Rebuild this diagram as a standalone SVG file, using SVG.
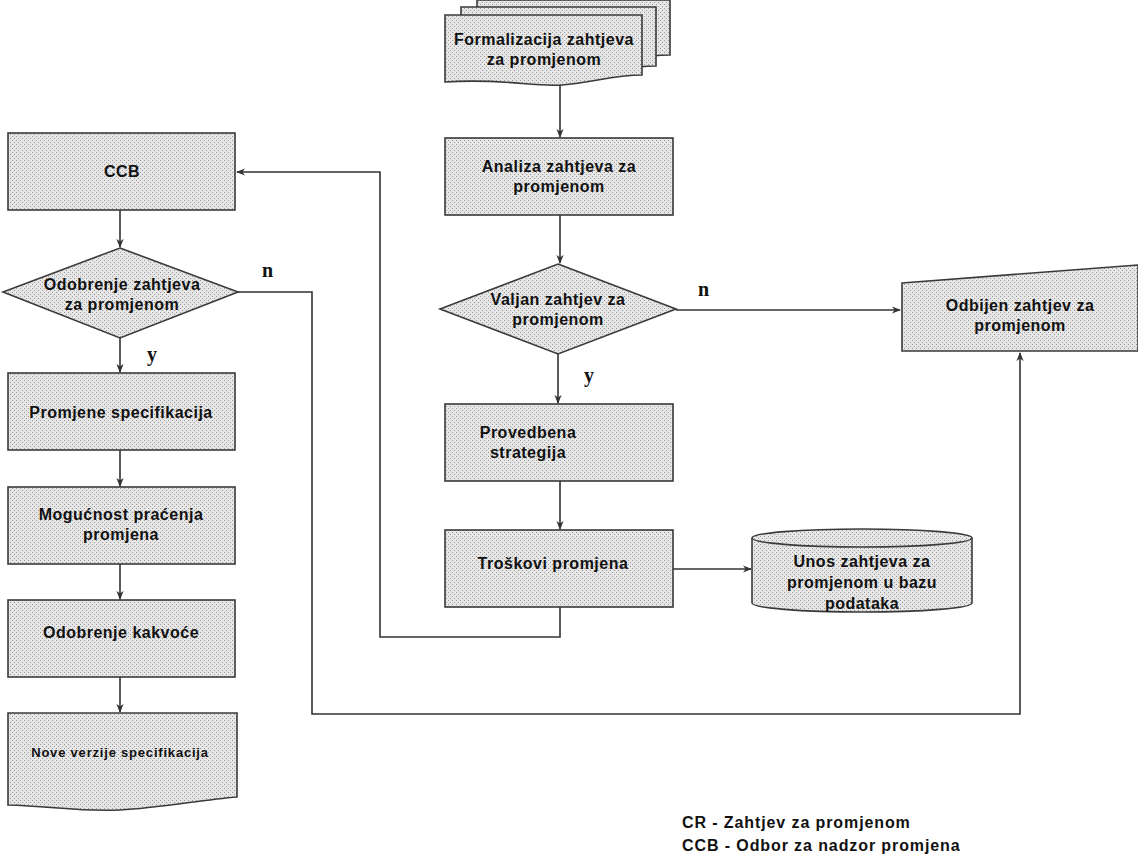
<svg xmlns="http://www.w3.org/2000/svg" width="1138" height="866" viewBox="0 0 1138 866">
  <defs>
    <pattern id="dots" width="4" height="4" patternUnits="userSpaceOnUse">
      <rect width="4" height="4" fill="#e6e6e6"/>
      <rect width="1" height="1" fill="#9a9a9a"/>
      <rect x="2" y="2" width="1" height="1" fill="#9a9a9a"/>
    </pattern>
    <marker id="arr" viewBox="0 0 10 10" refX="9" refY="5" markerWidth="9" markerHeight="9" orient="auto" markerUnits="userSpaceOnUse">
      <path d="M0,1 L10,5 L0,9 L3,5 Z" fill="#333"/>
    </marker>
    <style>
      .shape { fill: url(#dots); stroke: #3a3a3a; stroke-width: 1.6; }
      .lbl { font-family: "Liberation Sans", Arial, sans-serif; font-weight: bold; font-size: 16px; letter-spacing: 0.5px; fill: #111; text-anchor: middle; }
      .small { font-size: 13px; letter-spacing: 0.8px; }
      .yn { font-family: "Liberation Serif", "Times New Roman", serif; font-weight: bold; font-size: 20px; fill: #111; }
      .legend { font-family: "Liberation Sans", Arial, sans-serif; font-weight: bold; font-size: 16px; letter-spacing: 0.9px; fill: #111; }
      .conn { fill: none; stroke: #333; stroke-width: 1.6; }
    </style>
  </defs>
  <rect width="1138" height="866" fill="#ffffff"/>

  <!-- connectors -->
  <g id="connectors">
    <path class="conn" d="M560,83 V137" marker-end="url(#arr)"/>
    <path class="conn" d="M560,215 V263" marker-end="url(#arr)"/>
    <path class="conn" d="M676,310 H900" marker-end="url(#arr)"/>
    <path class="conn" d="M558,354 V403" marker-end="url(#arr)"/>
    <path class="conn" d="M560,481 V529" marker-end="url(#arr)"/>
    <path class="conn" d="M673,569 H751" marker-end="url(#arr)"/>
    <path class="conn" d="M560,607 V637 H380 V172 H237" marker-end="url(#arr)"/>
    <path class="conn" d="M120,210 V247" marker-end="url(#arr)"/>
    <path class="conn" d="M238,292 H312 V714 H1020 V353" marker-end="url(#arr)"/>
    <path class="conn" d="M120,338 V372" marker-end="url(#arr)"/>
    <path class="conn" d="M120,450 V486" marker-end="url(#arr)"/>
    <path class="conn" d="M120,564 V599" marker-end="url(#arr)"/>
    <path class="conn" d="M120,677 V712" marker-end="url(#arr)"/>
    <text class="yn" x="698" y="296">n</text>
    <text class="yn" x="584" y="382">y</text>
    <text class="yn" x="262" y="277">n</text>
    <text class="yn" x="147" y="361">y</text>
  </g>

  <!-- multi-document: formalization of the request -->
  <g id="formalizacija">
    <path class="shape" d="M477,0 H670 V55 C640,55 620,62 590,64 C560,66 530,58 477,62 Z"/>
    <path class="shape" d="M461,7 H656 V66 C626,66 606,74 576,76 C546,78 516,69 461,73 Z"/>
    <path class="shape" d="M445,15 H642 V75 C612,75 592,83 562,85 C532,87 502,78 445,82 Z"/>
    <text class="lbl" x="544" y="45">Formalizacija zahtjeva</text>
    <text class="lbl" x="544" y="65">za promjenom</text>
  </g>

  <g id="analiza">
    <rect class="shape" x="445" y="138" width="228" height="77"/>
    <text class="lbl" x="559" y="172">Analiza zahtjeva za</text>
    <text class="lbl" x="559" y="192">promjenom</text>
  </g>

  <g id="valjan">
    <polygon class="shape" points="558,264 676,309 558,354 440,309"/>
    <text class="lbl" x="558" y="305">Valjan zahtjev za</text>
    <text class="lbl" x="558" y="325">promjenom</text>
  </g>

  <g id="odbijen">
    <polygon class="shape" points="902,283 1138,265 1138,351 902,351"/>
    <text class="lbl" x="1020" y="311">Odbijen zahtjev za</text>
    <text class="lbl" x="1020" y="331">promjenom</text>
  </g>

  <g id="provedbena">
    <rect class="shape" x="445" y="404" width="228" height="77"/>
    <text class="lbl" x="528" y="438">Provedbena</text>
    <text class="lbl" x="528" y="458">strategija</text>
  </g>

  <g id="troskovi">
    <rect class="shape" x="445" y="530" width="228" height="77"/>
    <text class="lbl" x="553" y="569">Troškovi promjena</text>
  </g>

  <g id="baza">
    <path class="shape" d="M752,538 A110,9 0 0 1 972,538 V603 A110,9 0 0 1 752,603 Z"/>
    <path class="shape" d="M752,538 A110,9 0 0 0 972,538" fill="none"/>
    <text class="lbl" x="862" y="567">Unos zahtjeva za</text>
    <text class="lbl" x="862" y="588">promjenom u bazu</text>
    <text class="lbl" x="862" y="609">podataka</text>
  </g>

  <g id="ccb">
    <rect class="shape" x="8" y="133" width="227" height="77"/>
    <text class="lbl" x="122" y="177">CCB</text>
  </g>

  <g id="odobrenje-zahtjeva">
    <polygon class="shape" points="120,248 238,292 120,338 3,292"/>
    <text class="lbl" x="122" y="290">Odobrenje zahtjeva</text>
    <text class="lbl" x="122" y="310">za promjenom</text>
  </g>

  <g id="promjene-specifikacija">
    <rect class="shape" x="8" y="373" width="227" height="77"/>
    <text class="lbl" x="121" y="418">Promjene specifikacija</text>
  </g>

  <g id="mogucnost">
    <rect class="shape" x="8" y="487" width="227" height="77"/>
    <text class="lbl" x="121" y="520">Mogućnost praćenja</text>
    <text class="lbl" x="121" y="540">promjena</text>
  </g>

  <g id="odobrenje-kakvoce">
    <rect class="shape" x="8" y="600" width="227" height="77"/>
    <text class="lbl" x="121" y="638">Odobrenje kakvoće</text>
  </g>

  <g id="nove-verzije">
    <path class="shape" d="M8,713 H237 V797 C200,800 160,808 120,810 C80,812 50,806 8,805 Z"/>
    <text class="lbl small" x="120" y="757">Nove verzije specifikacija</text>
  </g>

  <g id="legenda">
    <text class="legend" x="682" y="828">CR - Zahtjev za promjenom</text>
    <text class="legend" x="682" y="851">CCB - Odbor za nadzor promjena</text>
  </g>
</svg>
